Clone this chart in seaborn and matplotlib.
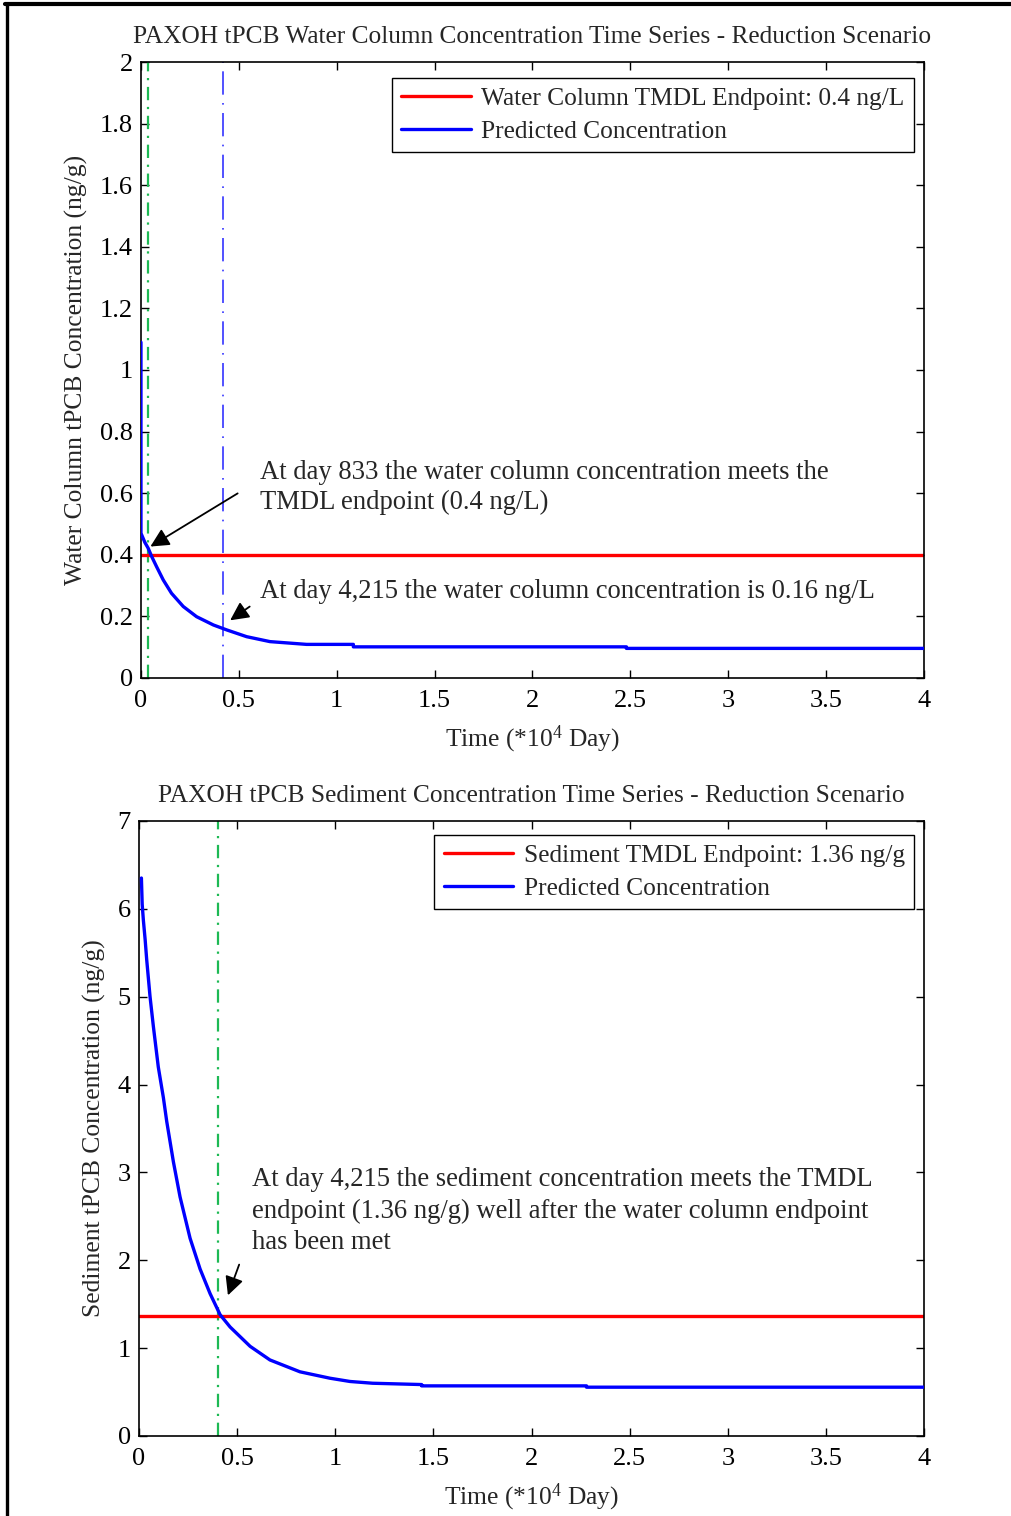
import matplotlib
matplotlib.use("Agg")
import matplotlib.pyplot as plt
from matplotlib.lines import Line2D
import seaborn as sns
import pandas as pd

# Water column tPCB concentration (time in 10^4 days, ng/L)
water_time = [0.0, 0.0, 0.02, 0.037, 0.055, 0.08, 0.114, 0.156, 0.216, 0.284,
              0.37, 0.438, 0.54, 0.659, 0.846, 1.085, 1.085, 2.48, 2.48, 4.0]
water_conc = [1.09, 0.47, 0.44, 0.421, 0.394, 0.361, 0.318, 0.275, 0.232, 0.199,
              0.172, 0.156, 0.134, 0.118, 0.109, 0.109, 0.101, 0.101, 0.096, 0.096]

# Sediment tPCB concentration (time in 10^4 days, ng/g)
sed_time = [0.012, 0.016, 0.022, 0.031, 0.039, 0.056, 0.073, 0.098, 0.124,
            0.141, 0.175, 0.209, 0.26, 0.311, 0.362, 0.413, 0.464, 0.566, 0.667,
            0.82, 0.973, 1.075, 1.19, 1.44, 1.44, 2.28, 2.28, 4.0]
sed_conc = [6.35, 6.05, 5.87, 5.65, 5.42, 5.0, 4.66, 4.2, 3.85,
            3.58, 3.12, 2.72, 2.25, 1.9, 1.62, 1.38, 1.24, 1.02, 0.865,
            0.73, 0.657, 0.62, 0.60, 0.585, 0.57, 0.57, 0.555, 0.555]

water_endpoint = 0.4
sed_endpoint = 1.36
water_meet_day = 0.037
reference_day = 0.4215
sed_meet_day = 0.40

x_ticks = [0, 0.5, 1, 1.5, 2, 2.5, 3, 3.5, 4]
x_tick_labels = ["0", "0.5", "1", "1.5", "2", "2.5", "3", "3.5", "4"]
water_y_ticks = [0, 0.2, 0.4, 0.6, 0.8, 1, 1.2, 1.4, 1.6, 1.8, 2]
water_y_labels = ["0", "0.2", "0.4", "0.6", "0.8", "1", "1.2", "1.4", "1.6", "1.8", "2"]
sed_y_ticks = [0, 1, 2, 3, 4, 5, 6, 7]
sed_y_labels = ["0", "1", "2", "3", "4", "5", "6", "7"]

sns.set_theme(style="ticks")
plt.rcParams["font.family"] = ["Liberation Serif", "DejaVu Serif"]
plt.rcParams["mathtext.fontset"] = "custom"
plt.rcParams["mathtext.rm"] = "Liberation Serif"
plt.rcParams["mathtext.default"] = "regular"
plt.rcParams["axes.edgecolor"] = "black"
plt.rcParams["axes.linewidth"] = 1.2
plt.rcParams["xtick.direction"] = "in"
plt.rcParams["ytick.direction"] = "in"
plt.rcParams["xtick.top"] = True
plt.rcParams["ytick.right"] = True
plt.rcParams["xtick.major.size"] = 6
plt.rcParams["ytick.major.size"] = 6
plt.rcParams["xtick.color"] = "black"
plt.rcParams["ytick.color"] = "black"

FS_TICK = 19
FS_LABEL = 18.4
FS_TITLE = 18.3
FS_LEG = 18.3
FS_NOTE = 19.2

fig = plt.figure(figsize=(10.12, 15.16), dpi=100)
ax1 = fig.add_axes([0.1393, 0.5528, 0.7737, 0.4063])
ax2 = fig.add_axes([0.1374, 0.0528, 0.7757, 0.4057])

green = "#1db954"
blue = "#0000ff"
red = "#ff0000"

water_df = pd.DataFrame({"t": water_time, "c": water_conc})
sed_df = pd.DataFrame({"t": sed_time, "c": sed_conc})

arrow_style = dict(arrowstyle="-|>", color="black", lw=1.3, mutation_scale=28)


def style_axes(ax, yticks, ylabels, ylim, ylabel, title):
    ax.set_xlim(0, 4)
    ax.set_ylim(*ylim)
    ax.set_xticks(x_ticks, x_tick_labels)
    ax.set_yticks(yticks, ylabels)
    ax.tick_params(axis="x", labelsize=FS_TICK, pad=8.5, width=1)
    ax.tick_params(axis="y", labelsize=FS_TICK, pad=6, width=1)
    ax.set_xlabel("Time (*10$^4$ Day)", fontsize=FS_LABEL, labelpad=8.5)
    ax.set_ylabel(ylabel, fontsize=FS_LABEL, labelpad=8)
    ax.set_title(title, fontsize=FS_TITLE, pad=13.5)


def style_legend(ax, anchor):
    leg = ax.legend(loc="upper right", fontsize=FS_LEG, frameon=True, fancybox=False,
                    handlelength=2.75, handletextpad=0.4, borderpad=0.36,
                    labelspacing=0.42, borderaxespad=0, bbox_to_anchor=anchor)
    leg.get_frame().set_edgecolor("black")
    leg.get_frame().set_linewidth(1.0)
    leg.get_frame().set_alpha(1)


# ---- Water column panel ----
ax1.axvline(water_meet_day, color=green, lw=1.6, ls=(0, (6, 3, 1, 3)), zorder=1)
ax1.axvline(reference_day, color="#3333ff", lw=1.2, ls=(0, (14, 5, 1, 5)), zorder=1)
ax1.axhline(water_endpoint, color=red, lw=2.4, zorder=2,
            label="Water Column TMDL Endpoint: 0.4 ng/L")
sns.lineplot(data=water_df, x="t", y="c", ax=ax1, sort=False, estimator=None,
             color=blue, lw=2.4, zorder=3, label="Predicted Concentration")
style_axes(ax1, water_y_ticks, water_y_labels, (0, 2),
           "Water Column tPCB Concentration (ng/g)",
           "PAXOH tPCB Water Column Concentration Time Series - Reduction Scenario")
style_legend(ax1, (0.987, 0.9745))

ax1.text(0.608, 0.617, "At day 833 the water column concentration meets the\nTMDL endpoint (0.4 ng/L)",
         fontsize=FS_NOTE, va="center", ha="left", linespacing=1.25)
ax1.annotate("", xy=(0.036, 0.422), xytext=(0.506, 0.604), arrowprops=arrow_style)
ax1.text(0.608, 0.2795, "At day 4,215 the water column concentration is 0.16 ng/L",
         fontsize=FS_NOTE, va="center", ha="left")
ax1.annotate("", xy=(0.444, 0.182), xytext=(0.567, 0.237), arrowprops=arrow_style)

# ---- Sediment panel ----
ax2.axvline(sed_meet_day, color=green, lw=1.6, ls=(0, (6, 3, 1, 3)), zorder=1)
ax2.axhline(sed_endpoint, color=red, lw=2.4, zorder=2,
            label="Sediment TMDL Endpoint: 1.36 ng/g")
sns.lineplot(data=sed_df, x="t", y="c", ax=ax2, sort=False, estimator=None,
             color=blue, lw=2.4, zorder=3, label="Predicted Concentration")
style_axes(ax2, sed_y_ticks, sed_y_labels, (0, 7),
           "Sediment tPCB Concentration (ng/g)",
           "PAXOH tPCB Sediment Concentration Time Series - Reduction Scenario")
style_legend(ax2, (0.987, 0.9778))

ax2.text(0.576, 2.561,
         "At day 4,215 the sediment concentration meets the TMDL\n"
         "endpoint (1.36 ng/g) well after the water column endpoint\n"
         "has been met",
         fontsize=FS_NOTE, va="center", ha="left", linespacing=1.32)
ax2.annotate("", xy=(0.448, 1.571), xytext=(0.515, 1.98), arrowprops=arrow_style)

# Page border (top and left edges)
fig.add_artist(Line2D([5 / 1012, 1.0], [1 - 4 / 1516, 1 - 4 / 1516],
                      transform=fig.transFigure, color="black", lw=3.0))
fig.add_artist(Line2D([7 / 1012, 7 / 1012], [0.0, 1 - 4 / 1516],
                      transform=fig.transFigure, color="black", lw=2.4))

fig.savefig("out.png", dpi=100)
